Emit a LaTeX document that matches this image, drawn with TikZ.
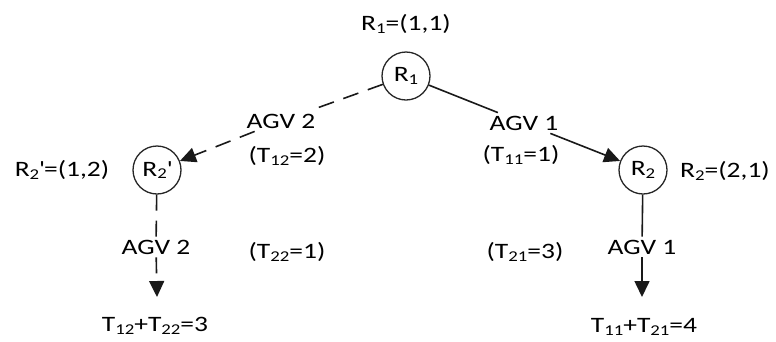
\documentclass[tikz,border=0pt]{standalone}
\usepackage{fontspec}
\setmainfont{Carlito}[FakeStretch=1.25]
\usetikzlibrary{arrows.meta}
\newcommand\sbs[1]{\raisebox{-2.5pt}{\fontsize{15}{15}\selectfont #1}}
\begin{document}
\begin{tikzpicture}[x=1pt,y=-1pt,font=\fontsize{22}{26}\selectfont,
  state/.style={circle,draw=black!85,line width=1.3pt,minimum size=48pt,inner sep=0pt,fill=white},
  lbl/.style={inner sep=0pt},
  cut/.style={inner sep=3pt},
  link/.style={line width=1.6pt,draw=black!90},
  dsh/.style={dash pattern=on 16pt off 10pt},
  tip/.style={-{Triangle[length=16pt,width=15pt]}}]
\useasboundingbox (0,0) rectangle (776,341);
% states
\node[state] (r1) at (406,76) {R\sbs{1}};
\node[state] (r2p) at (157,170) {R\sbs{2}\textquotesingle};
\node[state] (r2) at (643,170) {R\sbs{2}};
% state labels
\node[lbl] (r1l) at (406,24) {R\sbs{1}=(1,1)};
\node[lbl] (r2pl) at (62,170) {R\sbs{2}\textquotesingle=(1,2)};
\node[lbl] (r2l) at (725,171) {R\sbs{2}=(2,1)};
% edge labels
\node[cut] (a2t) at (281,121) {AGV 2};
\node[cut] (a1t) at (524,123) {AGV 1};
\node[lbl] (t12) at (287,156) {(T\sbs{12}=2)};
\node[lbl] (t11) at (521,155) {(T\sbs{11}=1)};
\node[lbl] (t22) at (287,252) {(T\sbs{22}=1)};
\node[lbl] (t21) at (525,252) {(T\sbs{21}=3)};
\node[cut] (a2b) at (156,247) {AGV 2};
\node[cut] (a1b) at (642,247) {AGV 1};
% results
\node[lbl] (s1) at (155,326) {T\sbs{12}+T\sbs{22}=3};
\node[lbl] (s2) at (644,327) {T\sbs{11}+T\sbs{21}=4};
\coordinate (e1) at (157,297);
\coordinate (e2) at (642,297);
% connectors
\draw[link,dsh] (r1) -- (a2t);
\draw[link,dsh,tip] (a2t) -- (r2p);
\draw[link] (r1) -- (a1t);
\draw[link,tip] (a1t) -- (r2);
\draw[link,dsh] (r2p) -- (a2b);
\draw[link,dsh,tip] (a2b) -- (e1);
\draw[link] (r2) -- (a1b);
\draw[link,tip] (a1b) -- (e2);
\end{tikzpicture}
\end{document}
